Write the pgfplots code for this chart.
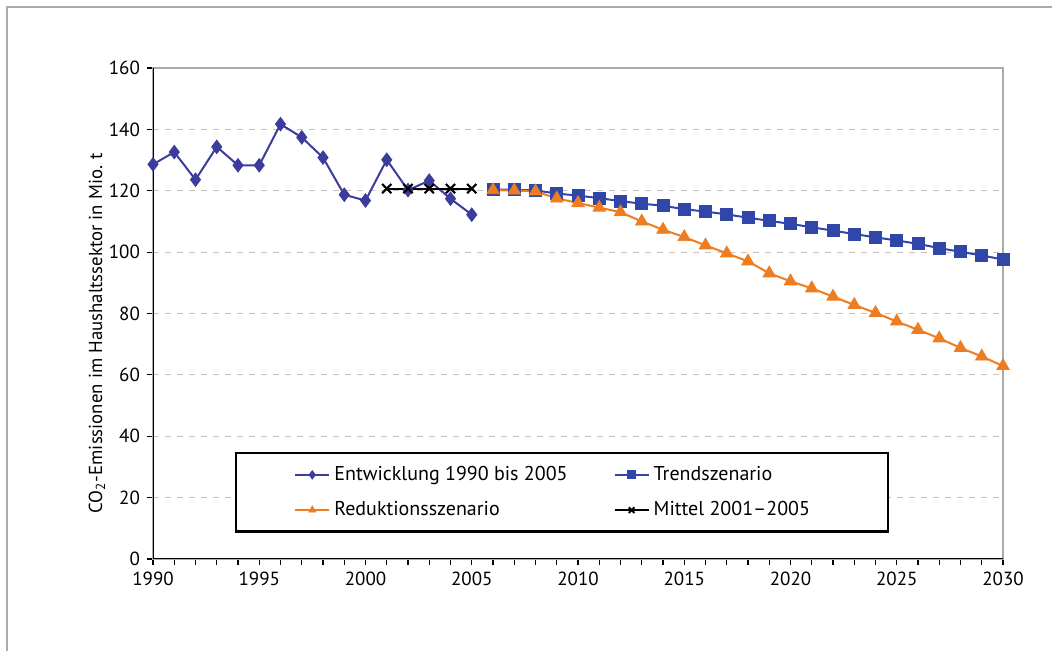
\documentclass[border=0pt]{standalone}
\usepackage{fontspec}
\setmainfont{PT Sans}
\usepackage{pgfplots}
\pgfplotsset{compat=1.18}
\definecolor{entw}{HTML}{3C3C9C}
\definecolor{trend}{HTML}{3046A8}
\definecolor{redu}{HTML}{EE7D22}
\definecolor{framec}{HTML}{AAAAAA}
\definecolor{gridc}{HTML}{C9BDBD}
\begin{document}
\begin{tikzpicture}[font=\fontsize{9.5pt}{11pt}\selectfont]
\useasboundingbox (-76.5pt,-46pt) rectangle (449.5pt,279.5pt);
\draw[color=framec, line width=1pt] (-73pt,-46pt) -- (-73pt,276pt) -- (449.5pt,276pt);
\begin{axis}[
  at={(0pt,0pt)}, anchor=south west,
  scale only axis, width=425pt, height=245.5pt,
  xmin=1990, xmax=2030, ymin=0, ymax=160,
  xtick={1990,1995,...,2030},
  minor xtick={1990,...,2030},
  ytick={0,20,...,160},
  tick pos=left,
  tick align=outside,
  major tick length=3pt, minor tick length=3pt,
  tick style={black, line width=0.6pt},
  axis line style={framec, line width=0.8pt},
  ymajorgrids,
  major grid style={dashed, color=gridc, line width=0.6pt},
  /pgf/number format/assume math mode=true,
  /pgf/number format/1000 sep={},
  ticklabel style={font=\fontsize{9.5pt}{11pt}\selectfont},
  ylabel={CO\textsubscript{2}-Emissionen im Haushaltssektor in Mio. t},
  ylabel style={at={(axis description cs:-0.066,0.46)}, anchor=center, font=\fontsize{9.4pt}{11pt}\selectfont},
  legend columns=2,
  legend cell align=left,
  legend image post style={mark size=2pt},
  legend style={at={(rel axis cs:0.0965,0.2179)}, anchor=north west,
    draw=black, line width=1.2pt, fill=white,
    inner xsep=29pt, inner ysep=4.5pt, row sep=5pt,
    font=\fontsize{10pt}{12pt}\selectfont,
    /tikz/every even column/.append style={column sep=21pt}},
]
\addplot[color=entw, line width=1pt, mark=diamond*, mark size=3.3pt, mark options={fill=entw, line width=0.5pt}] coordinates {
(1990,128.6) (1991,132.6) (1992,123.6) (1993,134.3) (1994,128.3) (1995,128.3)
(1996,141.7) (1997,137.4) (1998,130.8) (1999,118.7) (2000,116.8) (2001,130.1)
(2002,120.2) (2003,123.3) (2004,117.4) (2005,112.2)};
\addlegendentry{Entwicklung 1990 bis 2005}
\addplot[color=trend, line width=1pt, mark=square*, mark size=3pt, mark options={fill=trend, line width=0.4pt}] coordinates {
(2006,120.4) (2007,120.3) (2008,120.1) (2009,119.1) (2010,118.4) (2011,117.6)
(2012,116.6) (2013,115.8) (2014,115.1) (2015,114.0) (2016,113.2) (2017,112.3)
(2018,111.2) (2019,110.2) (2020,109.2) (2021,108.1) (2022,107.0) (2023,105.9)
(2024,104.8) (2025,103.8) (2026,102.7) (2027,101.3) (2028,100.1) (2029,98.9) (2030,97.6)};
\addlegendentry{\makebox[86pt][l]{Trendszenario}}
\addplot[color=redu, line width=1pt, mark=triangle*, mark size=3.6pt, mark options={fill=redu, line width=0.4pt}] coordinates {
(2006,120.2) (2007,120.1) (2008,119.8) (2009,117.5) (2010,116.0) (2011,114.5)
(2012,113.0) (2013,110.0) (2014,107.3) (2015,104.9) (2016,102.2) (2017,99.6)
(2018,97.0) (2019,93.1) (2020,90.5) (2021,88.2) (2022,85.5) (2023,82.8)
(2024,80.2) (2025,77.4) (2026,74.7) (2027,71.9) (2028,68.8) (2029,66.0) (2030,62.9)};
\addlegendentry{Reduktionsszenario}
\addplot[color=black, line width=1pt, mark=x, mark size=3.3pt, mark options={line width=1pt}] coordinates {
(2001,120.7) (2002,120.7) (2003,120.7) (2004,120.7) (2005,120.7)};
\addlegendentry{\makebox[86pt][l]{Mittel 2001--2005}}
\draw[black, line width=1pt] (rel axis cs:0,1) -- (rel axis cs:0,0) -- (rel axis cs:1,0);
\end{axis}
\end{tikzpicture}
\end{document}
